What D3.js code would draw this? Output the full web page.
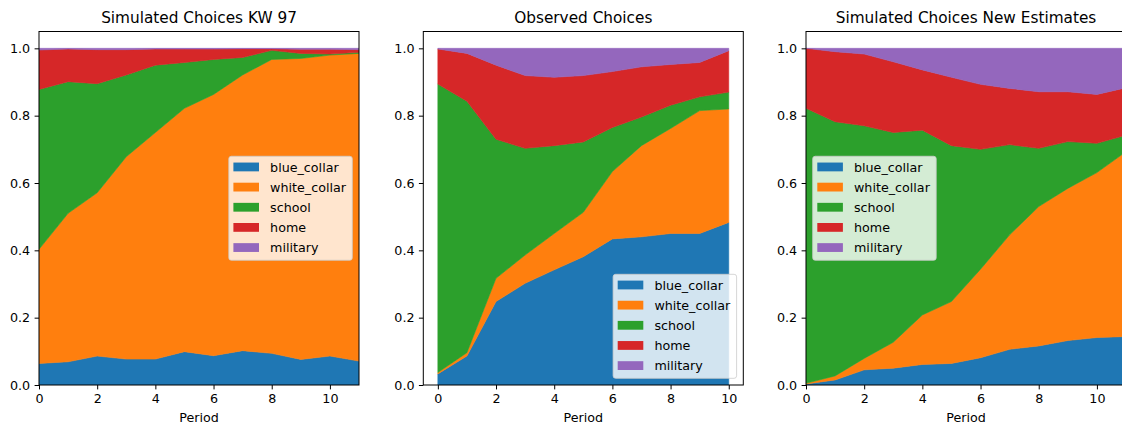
<!DOCTYPE html>
<html><head><meta charset="utf-8">
<script src="https://cdn.jsdelivr.net/npm/d3@7"></script>
<style>
html,body{margin:0;padding:0;background:#fff;}
svg{display:block;font-family:"DejaVu Sans",sans-serif;}
</style></head>
<body><svg id="chart" width="1122" height="428"></svg>
<script>
// ---------- data ----------
const choices = ["blue_collar","white_collar","school","home","military"];
const colors = ["#1f77b4","#ff7f0e","#2ca02c","#d62728","#9467bd"];
const titles = ["Simulated Choices KW 97","Observed Choices","Simulated Choices New Estimates"];
const yTicks = [0,0.2,0.4,0.6,0.8,1.0];
const xTicks = [0,2,4,6,8,10];

// Simulated Choices KW 97 (periods 0..11)
const kw97_periods = [0,1,2,3,4,5,6,7,8,9,10,11];
const kw97_blue_collar  = [0.064,0.069,0.086,0.077,0.077,0.099,0.087,0.102,0.094,0.076,0.086,0.071];
const kw97_white_collar = [0.339,0.441,0.485,0.601,0.673,0.723,0.776,0.819,0.873,0.894,0.894,0.914];
const kw97_school       = [0.475,0.391,0.324,0.243,0.200,0.136,0.104,0.052,0.027,0.015,0.003,0.003];
const kw97_home         = [0.117,0.097,0.101,0.075,0.048,0.040,0.031,0.026,0.005,0.012,0.014,0.008];
const kw97_military     = [0.005,0.002,0.004,0.004,0.002,0.002,0.002,0.001,0.001,0.003,0.003,0.004];

// Observed Choices (periods 0..10)
const obs_periods = [0,1,2,3,4,5,6,7,8,9,10];
const obs_blue_collar  = [0.033,0.086,0.248,0.302,0.342,0.381,0.434,0.440,0.450,0.450,0.483];
const obs_white_collar = [0.004,0.010,0.069,0.084,0.108,0.132,0.200,0.271,0.312,0.365,0.337];
const obs_school       = [0.857,0.747,0.413,0.317,0.261,0.209,0.131,0.085,0.069,0.041,0.050];
const obs_home         = [0.104,0.142,0.220,0.216,0.203,0.197,0.166,0.149,0.121,0.102,0.123];
const obs_military     = [0.002,0.015,0.050,0.081,0.086,0.081,0.069,0.055,0.048,0.042,0.007];

// Simulated Choices New Estimates (periods 0..11)
const new_periods = [0,1,2,3,4,5,6,7,8,9,10,11];
const new_blue_collar  = [0.003,0.015,0.045,0.050,0.061,0.064,0.081,0.106,0.116,0.132,0.141,0.144];
const new_white_collar = [0.002,0.012,0.034,0.077,0.147,0.184,0.263,0.340,0.414,0.452,0.490,0.549];
const new_school       = [0.817,0.755,0.691,0.623,0.549,0.463,0.356,0.268,0.173,0.139,0.087,0.049];
const new_home         = [0.178,0.208,0.213,0.210,0.179,0.203,0.193,0.167,0.168,0.148,0.145,0.141];
const new_military     = [0.000,0.010,0.017,0.040,0.064,0.086,0.107,0.119,0.129,0.129,0.137,0.117];

function table(periods, series){
  return periods.map((p,i)=>{
    const row={period:p};
    choices.forEach((c,k)=>row[c]=series[k][i]);
    return row;
  });
}
const panels = [
  {title:titles[0], data:table(kw97_periods,[kw97_blue_collar,kw97_white_collar,kw97_school,kw97_home,kw97_military]),
   left:39, xdom:[0,11], legend:"center right"},
  {title:titles[1], data:table(obs_periods,[obs_blue_collar,obs_white_collar,obs_school,obs_home,obs_military]),
   left:423.3, xdom:[-0.5,10.5], legend:"lower right"},
  {title:titles[2], data:table(new_periods,[new_blue_collar,new_white_collar,new_school,new_home,new_military]),
   left:806, xdom:[0,11], legend:"center left"}
];

// ---------- layout ----------
const svg = d3.select("#chart");
const pw = 320, axTop = 31.5, axBottom = 385;
const fs = 12.7;

panels.forEach(P=>{
  const x = d3.scaleLinear().domain(P.xdom).range([P.left, P.left+pw]);
  const y = d3.scaleLinear().domain([0,1.05]).range([axBottom, axTop]);
  const g = svg.append("g");
  const clipId = "clip"+Math.round(P.left);
  g.append("clipPath").attr("id",clipId).append("rect")
    .attr("x",P.left).attr("y",axTop).attr("width",pw).attr("height",axBottom-axTop);

  const stack = d3.stack().keys(choices)(P.data);
  const area = d3.area().x(d=>x(d.data.period)).y0(d=>y(d[0])).y1(d=>y(d[1]));
  const ag = g.append("g").attr("clip-path",`url(#${clipId})`);
  ag.selectAll("path").data(stack).join("path")
    .attr("d",area).attr("fill",(d,i)=>colors[i])
    .attr("stroke",(d,i)=>colors[i]).attr("stroke-width",0.6);

  // axes
  const xa = g.append("g").attr("transform",`translate(0,${axBottom})`)
    .call(d3.axisBottom(x).tickValues(xTicks).tickFormat(d3.format("d")).tickSize(4.4).tickPadding(4.4));
  const ya = g.append("g").attr("transform",`translate(${P.left},0)`)
    .call(d3.axisLeft(y).tickValues(yTicks).tickFormat(d3.format(".1f")).tickSize(4.4).tickPadding(4.4));
  [xa,ya].forEach(a=>{
    a.select(".domain").remove();
    a.selectAll("text").attr("font-size",fs).attr("font-family","DejaVu Sans").attr("fill","#000");
    a.selectAll("line").attr("stroke","#000").attr("stroke-width",1);
  });
  // frame
  g.append("rect").attr("x",P.left).attr("y",axTop).attr("width",pw).attr("height",axBottom-axTop)
    .attr("fill","none").attr("stroke","#000").attr("stroke-width",1);

  // title + xlabel
  g.append("text").attr("x",P.left+pw/2).attr("y",23.3).attr("text-anchor","middle")
    .attr("font-size",15.3).text(P.title);
  g.append("text").attr("x",P.left+pw/2).attr("y",421.5).attr("text-anchor","middle")
    .attr("font-size",fs).text("Period");

  // legend
  const lw = 123.5, lh = 104, pad = 6.7;
  let lx, ly;
  if(P.legend==="center right"){ lx = P.left+pw-pad-lw; ly = (axTop+axBottom)/2 - lh/2; }
  else if(P.legend==="lower right"){ lx = P.left+pw-pad-lw; ly = axBottom-pad-lh; }
  else { lx = P.left+pad; ly = (axTop+axBottom)/2 - lh/2; }
  const lg = g.append("g").attr("transform",`translate(${lx},${ly})`);
  lg.append("rect").attr("width",lw).attr("height",lh).attr("rx",2.5)
    .attr("fill","#fff").attr("fill-opacity",0.8)
    .attr("stroke","#ccc").attr("stroke-opacity",0.8).attr("stroke-width",1);
  choices.forEach((c,i)=>{
    const cy = 10.7 + i*20.15;
    lg.append("rect").attr("x",4.6).attr("y",cy-4.4).attr("width",25.6).attr("height",8.8).attr("fill",colors[i]);
    lg.append("text").attr("x",41.3).attr("y",cy+4.9).attr("font-size",fs).text(c);
  });
});
</script></body></html>
